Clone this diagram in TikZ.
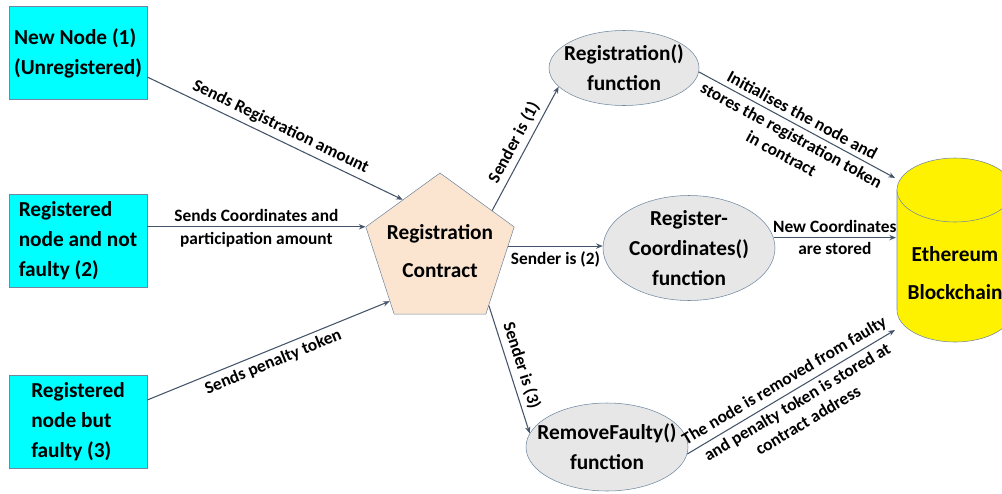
\documentclass[tikz,border=0pt]{standalone}
\usepackage{fontspec}
\setmainfont{Carlito}
\usetikzlibrary{shapes.geometric}
\usetikzlibrary{arrows.meta}
\usetikzlibrary{calc}
\definecolor{boxcyan}{RGB}{0,255,255}
\definecolor{peach}{RGB}{251,229,208}
\definecolor{ellgray}{RGB}{231,231,231}
\definecolor{edgeline}{RGB}{68,84,106}
\definecolor{shapeline}{RGB}{112,135,160}

\begin{document}
\begin{tikzpicture}[x=0.75pt,y=-0.75pt,
    sender/.style={rectangle,draw=shapeline,fill=boxcyan,minimum width=103.5pt,minimum height=69.75pt,align=left,font=\fontsize{16}{22.5}\selectfont\bfseries},
    func/.style={ellipse,draw=shapeline,fill=ellgray,align=center,inner sep=-12pt,font=\fontsize{16}{22.5}\selectfont\bfseries},
    flow/.style={draw=edgeline,line width=0.8pt,-{Stealth[length=5pt,width=4pt]}},
    lbl/.style={sloped,inner sep=3.5pt,align=center,font=\fontsize{13}{16}\selectfont\bfseries}]

            %\draw [help lines] (0,0) grid (1002,493);
            \useasboundingbox (0,0) rectangle (1002,493);
            \clip (0,0) rectangle (1002,493);

            \path   (78,53)  node (new) [sender] {New Node (1)\\(Unregistered)}
                    (78,241) node (good) [sender] {Registered\\node and not\\faulty (2)}
                    (78,422) node (bad) [sender] {Registered\\node but\\faulty (3)}
                    (440,251) node (pent) [regular polygon,regular polygon sides=5,minimum size=117pt,inner sep=-10pt,draw=shapeline,fill=peach,align=center,font=\fontsize{16}{22.5}\selectfont\bfseries] {Registration\\[6pt]Contract}
                    (624,68) node (regf) [func,minimum width=112.5pt,minimum height=56.25pt] {Registration()\\function}
                    (689,248) node (coordf) [func,minimum width=129pt,minimum height=78.75pt] {Register-\\Coordinates()\\function}
                    (607,447) node (remf) [func,minimum width=121.5pt,minimum height=66pt] {RemoveFaulty()\\function};

            \filldraw[draw=shapeline,fill=yellow] (897,190) -- (897,310) arc[start angle=180,end angle=0,x radius=58,y radius=32] -- (1013,190) -- cycle;
            \filldraw[draw=shapeline,fill=yellow] (955,190) ellipse [x radius=58,y radius=32];
            \path (955,273) node (eth) [align=center,font=\fontsize{16}{22.5}\selectfont\bfseries] {Ethereum\\[5.5pt]Blockchain};
            \coordinate (ethtop) at (895,178);
            \coordinate (cylside) at (896,250);
            \coordinate (ethbot) at (895,330);

            \draw[flow] ([yshift=-18pt]new.east) -- (pent.side 1) node[lbl,midway,above] {Sends Registration amount};
            \draw[flow] (good.east |- pent.corner 2) -- (pent.corner 2) node[lbl,midway,above] {Sends Coordinates and} node[lbl,midway,below] {participation amount};
            \draw[flow] ([yshift=16.5pt]bad.east) -- ($(pent.corner 2)!0.85!(pent.corner 3)$) node[lbl,midway,below] {Sends penalty token};
            \draw[flow] ($(pent.corner 5)!0.3!(pent.corner 1)$) -- (regf.196) node[lbl,midway,above] {Sender is (1)};
            \draw[flow] ($(pent.corner 4)!0.78!(pent.corner 5)$) coordinate (s2) -- (s2 -| coordf.west) node[lbl,midway,below] {Sender is (2)};
            \draw[flow] ($(pent.corner 4)!0.1!(pent.corner 5)$) -- (remf.170) node[lbl,midway,above] {Sender is (3)};
            \draw[flow] (regf.357) -- (ethtop) node[lbl,midway,above] {Initialises the node and} node[lbl,midway,below] {stores the registration token\\in contract};
            \draw[flow] (coordf.7) -- (coordf.7 -| cylside) node[lbl,midway,above] {New Coordinates} node[lbl,midway,below] {are stored};
            \draw[flow] (remf.355) -- (ethbot) node[lbl,midway,above] {The node is removed from faulty} node[lbl,midway,below] {and penalty token is stored at\\contract address};
        \end{tikzpicture}
\end{document}
